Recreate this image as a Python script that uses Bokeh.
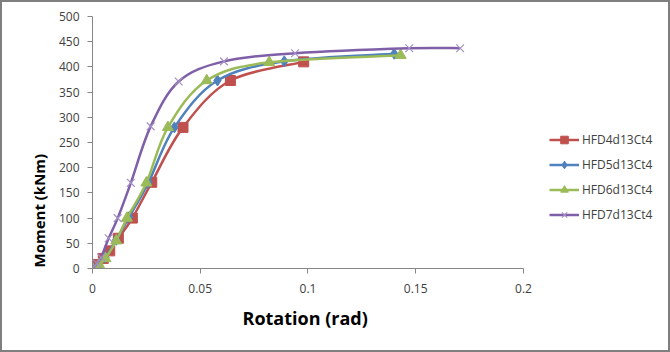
from bokeh.plotting import figure
from bokeh.models import Legend, LegendItem, Range1d, Title, FixedTicker
from bokeh.embed import file_html
from bokeh.resources import INLINE
import numpy as np

# Data
series_names = ["HFD4d13Ct4", "HFD5d13Ct4", "HFD6d13Ct4", "HFD7d13Ct4"]
rot_4 = [0.0, 0.002, 0.005, 0.008, 0.012, 0.0185, 0.0275, 0.042, 0.064, 0.098]
mom_4 = [0, 8, 20, 35, 60, 100, 171, 280, 373, 410]
rot_5 = [0.0, 0.003, 0.006, 0.011, 0.017, 0.026, 0.038, 0.058, 0.089, 0.140]
mom_5 = [0, 8, 22, 57, 102, 171, 280, 373, 411, 426]
rot_6 = [0.0, 0.003, 0.006, 0.011, 0.016, 0.025, 0.035, 0.053, 0.082, 0.143]
mom_6 = [0, 8, 20, 55, 100, 170, 280, 373, 409, 423]
rot_7 = [0.0, 0.002, 0.004, 0.0075, 0.0117, 0.0178, 0.027, 0.040, 0.061, 0.094, 0.147, 0.1706]
mom_7 = [0, 10, 22, 60, 100, 170, 282, 371, 411, 427, 437, 437]

x_ticks = [0, 0.05, 0.1, 0.15, 0.2]
y_ticks = [0, 50, 100, 150, 200, 250, 300, 350, 400, 450, 500]

colors = ["#C0504D", "#4F81BD", "#9BBB59", "#7F5FA8"]
markers = ["square", "diamond", "triangle", "x"]
msizes = [10, 11, 11, 11]
mcolors = ["#C0504D", "#4F81BD", "#9BBB59", "#A490C6"]

W, H = 670, 352
# axis spans 0..0.2 over 428 px; frame extends further right to hold the legend
frame_px = 670 - 2 - 92
x_end = 0.2 * frame_px / 428.0
p = figure(width=W, height=H, output_backend="svg", toolbar_location=None,
           x_range=Range1d(0, x_end), y_range=Range1d(0, 500),
           min_border_left=90, min_border_right=0, min_border_top=14, min_border_bottom=86)
p.outline_line_color = None
p.xgrid.visible = False
p.ygrid.visible = False
p.background_fill_color = "white"
p.border_fill_color = "white"
p.styles = {"border": "2px solid #7F7F7F", "box-sizing": "border-box"}

for ax, ticks in ((p.xaxis, x_ticks), (p.yaxis, y_ticks)):
    ax.ticker = FixedTicker(ticks=ticks)
    ax.axis_line_color = "#868686"
    ax.major_tick_line_color = "#868686"
    ax.minor_tick_line_color = None
    ax.major_tick_out = 5
    ax.major_tick_in = 0
    ax.major_label_text_font = "Open Sans"
    ax.major_label_text_font_size = "12px"
    ax.major_label_text_color = "#404040"

p.xaxis.bounds = (0, 0.2)
p.xaxis.major_label_overrides = {0: "0", 0.05: "0.05", 0.1: "0.1", 0.15: "0.15", 0.2: "0.2"}
p.xaxis.major_label_standoff = 10
p.yaxis.major_label_standoff = 8

xtitle = Title(text="Rotation (rad)", align="left", offset=150,
               text_font="Open Sans", text_font_style="bold", text_font_size="18px",
               text_color="#000000", standoff=17)
p.add_layout(xtitle, "below")

ytitle = Title(text="Moment (kNm)", align="left", offset=1,
               text_font="Open Sans", text_font_style="bold", text_font_size="15px",
               text_color="#000000", standoff=14)
p.add_layout(ytitle, "left")


def smooth_segments(xs, ys):
    xs = np.asarray(xs, float)
    ys = np.asarray(ys, float)
    n = len(xs)
    x0, y0, x1, y1, cx0, cy0, cx1, cy1 = ([] for _ in range(8))
    for i in range(n - 1):
        im = max(i - 1, 0)
        ip = min(i + 2, n - 1)
        x0.append(xs[i]); y0.append(ys[i]); x1.append(xs[i + 1]); y1.append(ys[i + 1])
        cx0.append(xs[i] + (xs[i + 1] - xs[im]) / 6.0)
        cy0.append(ys[i] + (ys[i + 1] - ys[im]) / 6.0)
        cx1.append(xs[i + 1] - (xs[ip] - xs[i]) / 6.0)
        cy1.append(ys[i + 1] - (ys[ip] - ys[i]) / 6.0)
    return dict(x0=x0, y0=y0, x1=x1, y1=y1, cx0=cx0, cy0=cy0, cx1=cx1, cy1=cy1)


all_data = [(rot_4, mom_4), (rot_5, mom_5), (rot_6, mom_6), (rot_7, mom_7)]
items = []
for (xs, ys), c, m, ms, mc, name in zip(all_data, colors, markers, msizes, mcolors, series_names):
    seg = smooth_segments(xs, ys)
    p.bezier(source=seg, x0="x0", y0="y0", x1="x1", y1="y1", cx0="cx0", cy0="cy0",
             cx1="cx1", cy1="cy1", line_color=c, line_width=2.5)
    if m == "x":
        r = p.scatter(xs, ys, marker=m, size=ms, line_color=mc, line_width=1.2)
    else:
        r = p.scatter(xs, ys, marker=m, size=ms, fill_color=mc, line_color=mc)
    leg_line = p.line([np.nan], [np.nan], line_color=c, line_width=2.5)
    if m == "x":
        leg_mark = p.scatter([np.nan], [np.nan], marker=m, size=9, line_color=mc, line_width=1.2)
    else:
        leg_mark = p.scatter([np.nan], [np.nan], marker=m, size=8, fill_color=mc, line_color=mc)
    items.append(LegendItem(label=name, renderers=[leg_line, leg_mark]))

legend = Legend(items=items, location=(457, 44), padding=0, margin=0,
                spacing=6, glyph_width=30, glyph_height=19, label_height=19,
                label_standoff=3, label_text_font="Open Sans", label_text_font_size="12px",
                label_text_color="#404040", border_line_color=None,
                background_fill_alpha=0)
p.add_layout(legend, "center")

open("out.html", "w").write(file_html(p, INLINE))
